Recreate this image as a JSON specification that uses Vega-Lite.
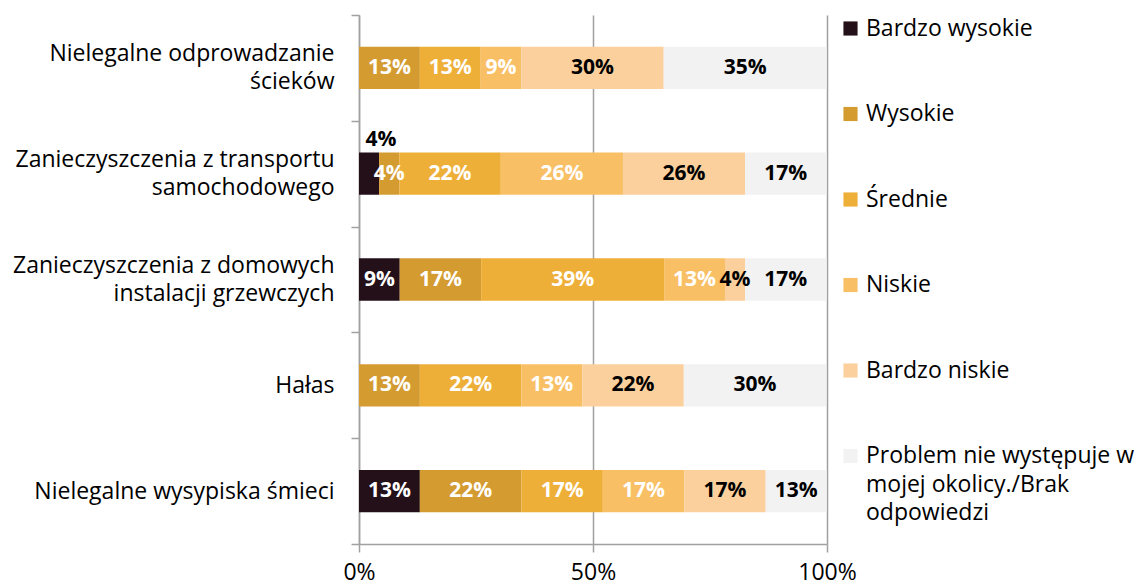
{
  "$schema": "https://vega.github.io/schema/vega-lite/v6.json",
  "width": 468,
  "height": 529,
  "autosize": {"type": "none"},
  "padding": {"left": 359, "top": 15, "right": 314, "bottom": 44},
  "background": "white",
  "config": {"view": {"stroke": null}, "font": "Open Sans"},
  "data": {
    "values": [
      {"cat": "Nielegalne odprowadzanie ścieków", "s": "Wysokie", "v": 0.130},
      {"cat": "Nielegalne odprowadzanie ścieków", "s": "Średnie", "v": 0.130},
      {"cat": "Nielegalne odprowadzanie ścieków", "s": "Niskie", "v": 0.087},
      {"cat": "Nielegalne odprowadzanie ścieków", "s": "Bardzo niskie", "v": 0.304},
      {"cat": "Nielegalne odprowadzanie ścieków", "s": "Problem nie występuje w mojej okolicy./Brak odpowiedzi", "v": 0.348},
      {"cat": "Zanieczyszczenia z transportu samochodowego", "s": "Bardzo wysokie", "v": 0.043},
      {"cat": "Zanieczyszczenia z transportu samochodowego", "s": "Wysokie", "v": 0.043},
      {"cat": "Zanieczyszczenia z transportu samochodowego", "s": "Średnie", "v": 0.217},
      {"cat": "Zanieczyszczenia z transportu samochodowego", "s": "Niskie", "v": 0.261},
      {"cat": "Zanieczyszczenia z transportu samochodowego", "s": "Bardzo niskie", "v": 0.261},
      {"cat": "Zanieczyszczenia z transportu samochodowego", "s": "Problem nie występuje w mojej okolicy./Brak odpowiedzi", "v": 0.174},
      {"cat": "Zanieczyszczenia z domowych instalacji grzewczych", "s": "Bardzo wysokie", "v": 0.087},
      {"cat": "Zanieczyszczenia z domowych instalacji grzewczych", "s": "Wysokie", "v": 0.174},
      {"cat": "Zanieczyszczenia z domowych instalacji grzewczych", "s": "Średnie", "v": 0.391},
      {"cat": "Zanieczyszczenia z domowych instalacji grzewczych", "s": "Niskie", "v": 0.130},
      {"cat": "Zanieczyszczenia z domowych instalacji grzewczych", "s": "Bardzo niskie", "v": 0.043},
      {"cat": "Zanieczyszczenia z domowych instalacji grzewczych", "s": "Problem nie występuje w mojej okolicy./Brak odpowiedzi", "v": 0.174},
      {"cat": "Hałas", "s": "Wysokie", "v": 0.130},
      {"cat": "Hałas", "s": "Średnie", "v": 0.217},
      {"cat": "Hałas", "s": "Niskie", "v": 0.130},
      {"cat": "Hałas", "s": "Bardzo niskie", "v": 0.217},
      {"cat": "Hałas", "s": "Problem nie występuje w mojej okolicy./Brak odpowiedzi", "v": 0.304},
      {"cat": "Nielegalne wysypiska śmieci", "s": "Bardzo wysokie", "v": 0.130},
      {"cat": "Nielegalne wysypiska śmieci", "s": "Wysokie", "v": 0.217},
      {"cat": "Nielegalne wysypiska śmieci", "s": "Średnie", "v": 0.174},
      {"cat": "Nielegalne wysypiska śmieci", "s": "Niskie", "v": 0.174},
      {"cat": "Nielegalne wysypiska śmieci", "s": "Bardzo niskie", "v": 0.174},
      {"cat": "Nielegalne wysypiska śmieci", "s": "Problem nie występuje w mojej okolicy./Brak odpowiedzi", "v": 0.130}
    ]
  },
  "transform": [
    {"calculate": "indexof(['Bardzo wysokie','Wysokie','Średnie','Niskie','Bardzo niskie','Problem nie występuje w mojej okolicy./Brak odpowiedzi'], datum.s)", "as": "o"},
    {"stack": "v", "groupby": ["cat"], "sort": [{"field": "o"}], "as": ["x0", "x1"]},
    {"calculate": "(datum.x0 + datum.x1) / 2", "as": "mid"}
  ],
  "encoding": {
    "y": {
      "field": "cat",
      "type": "nominal",
      "sort": ["Nielegalne odprowadzanie ścieków", "Zanieczyszczenia z transportu samochodowego", "Zanieczyszczenia z domowych instalacji grzewczych", "Hałas", "Nielegalne wysypiska śmieci"],
      "scale": {"paddingInner": 0, "paddingOuter": 0},
      "axis": {
        "title": null,
        "labelExpr": "datum.value == 'Nielegalne odprowadzanie ścieków' ? ['Nielegalne odprowadzanie', '\u200b', 'ścieków'] : datum.value == 'Zanieczyszczenia z transportu samochodowego' ? ['Zanieczyszczenia z transportu', '\u200b', 'samochodowego'] : datum.value == 'Zanieczyszczenia z domowych instalacji grzewczych' ? ['Zanieczyszczenia z domowych', '\u200b', 'instalacji grzewczych'] : ['', datum.value]",
        "labelFontSize": 23,
        "labelColor": "#000000",
        "labelLineHeight": 14,
        "labelPadding": 17,
        "labelLimit": 400,
        "labelOffset": -14,
        "tickBand": "extent",
        "tickSize": 8,
        "tickColor": "#a0a0a0",
        "tickWidth": 1.5,
        "domainColor": "#a0a0a0",
        "domainWidth": 1.5
      }
    }
  },
  "layer": [
    {
      "mark": {"type": "bar", "height": {"band": 0.4}},
      "encoding": {
        "x": {
          "field": "x0",
          "type": "quantitative",
          "scale": {"domain": [0, 1], "nice": false},
          "axis": {
            "title": null,
            "values": [0, 0.5, 1],
            "format": ".0%",
            "grid": true,
            "gridColor": "#a0a0a0",
            "gridWidth": 1.5,
            "domainColor": "#a0a0a0",
            "domainWidth": 1.5,
            "tickColor": "#a0a0a0",
            "tickWidth": 1.5,
            "tickSize": 8,
            "labelFontSize": 23,
            "labelColor": "#000000",
            "labelPadding": 9,
            "labelFlush": false
          }
        },
        "x2": {"field": "x1"},
        "color": {
          "field": "s",
          "type": "nominal",
          "sort": ["Bardzo wysokie", "Wysokie", "Średnie", "Niskie", "Bardzo niskie", "Problem nie występuje w mojej okolicy./Brak odpowiedzi"],
          "scale": {
            "domain": ["Bardzo wysokie", "Wysokie", "Średnie", "Niskie", "Bardzo niskie", "Problem nie występuje w mojej okolicy./Brak odpowiedzi"],
            "range": ["#231018", "#d49b30", "#eeaf38", "#f9bf65", "#fbd09c", "#f2f2f2"]
          },
          "legend": {
            "title": null,
            "orient": "right",
            "offset": 10,
            "padding": 2,
            "symbolType": "square",
            "symbolSize": 200,
            "symbolStrokeWidth": 0,
            "labelFontSize": 23,
            "labelColor": "#000000",
            "labelLimit": 320,
            "labelOffset": 4,
            "rowPadding": 61.5,
            "labelExpr": "datum.label == 'Problem nie występuje w mojej okolicy./Brak odpowiedzi' ? ['Problem nie występuje w', 'mojej okolicy./Brak', 'odpowiedzi'] : datum.label",
            "encoding": {
              "labels": {"lineHeight": {"value": 28.5}}
            }
          }
        }
      }
    },
    {
      "transform": [{"filter": "!(datum.s == 'Bardzo wysokie' && datum.v < 0.05)"}],
      "mark": {"type": "text", "fontWeight": "bold", "fontSize": 21},
      "encoding": {
        "x": {"field": "mid", "type": "quantitative"},
        "text": {"field": "v", "type": "quantitative", "format": ".0%"},
        "color": {
          "condition": {"test": "datum.s == 'Bardzo wysokie' || datum.s == 'Wysokie' || datum.s == 'Średnie' || datum.s == 'Niskie'", "value": "#ffffff"},
          "value": "#000000"
        }
      }
    },
    {
      "transform": [{"filter": "datum.s == 'Bardzo wysokie' && datum.v < 0.05"}],
      "mark": {"type": "text", "fontWeight": "bold", "fontSize": 21, "dx": 12, "dy": -34, "color": "#000000"},
      "encoding": {
        "x": {"field": "mid", "type": "quantitative"},
        "text": {"field": "v", "type": "quantitative", "format": ".0%"}
      }
    }
  ]
}
